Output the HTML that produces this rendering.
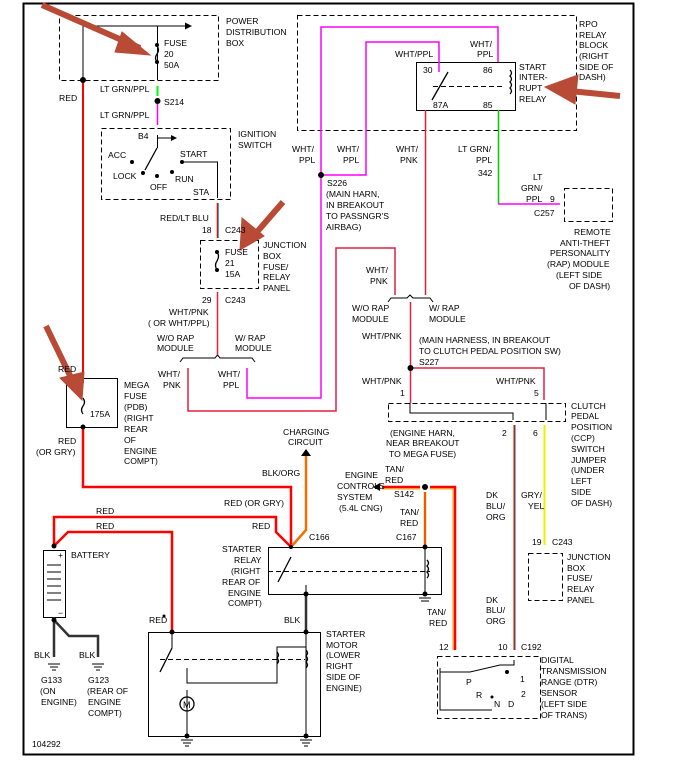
<!DOCTYPE html>
<html><head><style>
html,body{margin:0;padding:0;background:#fff;}
svg{display:block;font-family:"Liberation Sans",sans-serif;font-size:8.6px;}
text{fill:#000;}
</style></head><body>
<svg width="683" height="775" viewBox="0 0 683 775" xmlns="http://www.w3.org/2000/svg">
<rect x="23.5" y="3.5" width="610" height="751" fill="none" stroke="#000" stroke-width="2"/>
<g fill="none" stroke="#000" stroke-width="1" stroke-dasharray="5,3">
<rect x="59.5" y="15.5" width="159" height="65"/>
<rect x="101.5" y="128.5" width="129" height="71"/>
<rect x="200.5" y="240.5" width="58" height="48"/>
<rect x="297.5" y="15.5" width="279" height="115"/>
<rect x="564.5" y="188.5" width="48" height="33"/>
<rect x="388.5" y="403.5" width="177" height="18"/>
<rect x="528.5" y="553.5" width="34" height="47"/>
<rect x="437.5" y="656.5" width="103" height="62"/>
<line x1="268" y1="571.5" x2="430" y2="571.5"/>
<line x1="160" y1="659.5" x2="305" y2="659.5"/>
<line x1="433" y1="86.5" x2="505" y2="86.5"/>
</g>
<g fill="none" stroke="#000" stroke-width="1">
<polyline points="83,80 83,26 186,26"/>
<line x1="157.5" y1="26" x2="157.5" y2="80"/>
<polyline points="157.5,135 157.5,138 172,138"/>
<polyline points="182,162 217.5,162 217.5,198"/>
<rect x="416.5" y="62.5" width="99" height="48"/>
<rect x="66.5" y="378.5" width="51" height="49"/>
<rect x="268.5" y="547.5" width="173" height="47"/>
<rect x="148.5" y="632.5" width="172" height="104"/>
<rect x="43.5" y="550.5" width="22" height="67"/>
<polyline points="180,362 183,358 215,358 217.5,355 220,358 252,358 255,362"/>
<polyline points="388,302 391,298 407,298 410,295 413,298 430,298 433,302"/>
<polyline points="410,403 410,413 513,413 513,420"/>
<polyline points="546,403 546,420"/>
<polyline points="440,668 440,710 492,710"/>
<polyline points="440,672 470,672 500,665 514,665 514,660"/>
<polyline points="306,602 306,585 306,660"/>
<polyline points="187,668 187,683 277,683 277,647 306,647"/>
<line x1="187" y1="690" x2="187" y2="736"/>
<line x1="306" y1="594" x2="306" y2="736"/>
<line x1="425" y1="547" x2="425" y2="594"/>
<line x1="172" y1="632" x2="172" y2="648"/>
<line x1="157.5" y1="138" x2="157.5" y2="148"/>
</g>
<g fill="#000">
<polygon points="192,26 185,22.5 185,29.5"/>
<polygon points="177,138 171,135 171,141"/>
</g>
<g fill="none" stroke-width="2">
<polyline stroke="#f00" points="83,80 83,383"/>
<polyline stroke="#f00" stroke-width="2.5" points="83,427 83,487 291,487 291,548"/>
<polyline stroke="#f00" stroke-width="2.5" points="54,546 54,517 276,517 276,532 291,547"/>
<polyline stroke="#f00" stroke-width="2.5" points="54,546 68,532 172,532 172,632"/>
<polyline stroke="#333" stroke-width="2.5" points="54,617 54,657"/>
<polyline stroke="#333" stroke-width="2.5" points="54,620 69,636 98,636 98,657"/>
<polyline stroke="#333" stroke-width="2.5" points="306,594 306,632"/>
</g>
<g fill="none" stroke-width="1.5">
<line x1="157.5" y1="86" x2="157.5" y2="96" stroke="#0f0" stroke-width="2"/>
<line x1="157.5" y1="104" x2="157.5" y2="125" stroke="#f0f"/>
<line x1="217.5" y1="203" x2="217.5" y2="238" stroke="#f00"/>
<line x1="218.5" y1="203" x2="218.5" y2="238" stroke="#0aa" stroke-width="0.8"/>
<line x1="217.5" y1="292" x2="217.5" y2="355" stroke="#e02040"/>
<polyline stroke="#e02040" points="188,368 188,411 336,411 336,248 395,248 395,295"/>
<polyline stroke="#f0f" points="247,368 247,398 321,398 321,27 498,27 498,62"/>
<polyline stroke="#f0f" points="321,175 366,175 366,42 439,42 439,72"/>
<line x1="425.5" y1="110" x2="425.5" y2="295" stroke="#e02040"/>
<polyline stroke="#0c0" points="498.5,110 498.5,204"/>
<polyline stroke="#f0f" points="498,204 560,204"/>
<line x1="410.5" y1="302" x2="410.5" y2="403" stroke="#e02040"/>
<polyline stroke="#e02040" points="410,368 544,368 544,400"/>
<line x1="514.5" y1="425" x2="514.5" y2="650" stroke="#f07000" stroke-width="2.5"/>
<line x1="514.5" y1="425" x2="514.5" y2="650" stroke="#3040d0" stroke-width="1"/>
<line x1="544.5" y1="425" x2="544.5" y2="545" stroke="#ee0" stroke-width="2"/>
<polyline stroke="#f07000" stroke-width="2.5" points="306,455 306,530 291,547"/>
<polyline stroke="#f00" stroke-width="2.5" points="382,487 420,487"/>
<polyline stroke="#ea0" stroke-width="1" points="382,489 420,489"/>
<polyline stroke="#f00" stroke-width="2.5" points="430,487 455,487 455,650"/>
<polyline stroke="#ea0" stroke-width="1" points="430,489 453,489 453,650"/>
<line x1="425" y1="492" x2="425" y2="547" stroke="#ea0" stroke-width="2.5"/>
<line x1="425" y1="492" x2="425" y2="547" stroke="#f00" stroke-width="1"/>
</g>
<g fill="#000">
<circle cx="83" cy="80" r="3"/><circle cx="157.5" cy="101" r="3"/><circle cx="321" cy="175" r="3"/>
<circle cx="410.5" cy="368" r="3"/><circle cx="425" cy="487" r="3"/>
<circle cx="54" cy="546" r="2.5"/><circle cx="54" cy="620" r="2.5"/><circle cx="291" cy="547" r="2"/>
<circle cx="172" cy="632" r="2.5"/><circle cx="306" cy="632" r="2.5"/><circle cx="306" cy="594" r="2.5"/>
<circle cx="425" cy="594" r="2.5"/><circle cx="425" cy="547" r="2.5"/>
<circle cx="187" cy="736" r="2.5"/><circle cx="306" cy="736" r="2.5"/>
<circle cx="83" cy="427" r="2.5"/><circle cx="157" cy="45" r="2"/><circle cx="157" cy="62" r="2"/>
<circle cx="217" cy="252" r="2"/><circle cx="217" cy="270" r="2"/>
<circle cx="132" cy="162" r="2"/><circle cx="143" cy="173" r="2"/><circle cx="157" cy="176" r="2"/><circle cx="172" cy="172" r="2"/><circle cx="182" cy="162" r="2"/>
<circle cx="164" cy="616" r="1.5"/><circle cx="492" cy="697" r="1.5"/><circle cx="507" cy="672" r="2"/>
<polygon points="306,449 301,456 311,456"/>
<polygon points="373,487 380,483 380,491"/>
</g>
<g stroke="#000" fill="none" stroke-width="1.3">
<line x1="157" y1="148" x2="145" y2="170"/>
<line x1="448" y1="72" x2="432" y2="100"/>
<line x1="291" y1="557" x2="278" y2="582"/>
<line x1="172" y1="648" x2="160" y2="672"/>
<path d="M427,560 q3,3 0,6 q3,3 0,6 q3,3 0,6"/>
<path d="M306,650 q3,3 0,6 q3,3 0,6 q3,3 0,6"/>
<path d="M277,652 q3,3 0,6 q3,3 0,6"/>
<path d="M510,70 q3,3 0,6 q3,3 0,6 q3,3 0,6 q3,3 0,6"/>
<path d="M157,46 q3,4 0,8 q-3,4 0,8"/>
<path d="M217,252 q3,4 0,9 q-3,4 0,9"/>
<path d="M83,398 q3,4 0,8 q-3,4 0,8"/>
<circle cx="187" cy="704" r="7"/>
</g>
<text x="183" y="708" font-size="9">M</text>
<g stroke="#000" stroke-width="1"><line x1="47" y1="565" x2="61" y2="565"/><line x1="47" y1="572" x2="61" y2="572"/><line x1="47" y1="579" x2="61" y2="579"/><line x1="47" y1="586" x2="61" y2="586"/><line x1="47" y1="593" x2="61" y2="593"/><line x1="47" y1="600" x2="61" y2="600"/>
<line x1="48" y1="664" x2="60" y2="664"/><line x1="50" y1="667" x2="58" y2="667"/><line x1="52" y1="670" x2="56" y2="670"/>
<line x1="92" y1="664" x2="104" y2="664"/><line x1="94" y1="667" x2="102" y2="667"/><line x1="96" y1="670" x2="100" y2="670"/>
<line x1="181" y1="740" x2="193" y2="740"/><line x1="183" y1="743" x2="191" y2="743"/><line x1="185" y1="746" x2="189" y2="746"/>
<line x1="300" y1="740" x2="312" y2="740"/><line x1="302" y1="743" x2="310" y2="743"/><line x1="304" y1="746" x2="308" y2="746"/>
<line x1="419" y1="598" x2="431" y2="598"/><line x1="421" y1="601" x2="429" y2="601"/>
</g>
<g stroke="#b94a35" fill="#b94a35" stroke-width="6">
<line x1="42" y1="5" x2="140" y2="48"/><polygon stroke-width="1" points="150,55 122,32 115,52"/>
<line x1="620" y1="96" x2="560" y2="90"/><polygon stroke-width="1" points="545,87 578,75 575,104"/>
<line x1="283" y1="202" x2="250" y2="240"/><polygon stroke-width="1" points="240,250 242,218 264,236"/>
<line x1="46" y1="326" x2="76" y2="388"/><polygon stroke-width="1" points="82,400 60,378 84,372"/>
</g>
<g>
<text x="226" y="24">POWER</text><text x="226" y="35">DISTRIBUTION</text><text x="226" y="46">BOX</text>
<text x="164" y="46">FUSE</text><text x="164" y="57">20</text><text x="164" y="68">50A</text>
<text x="59" y="101">RED</text>
<text x="100" y="92">LT GRN/PPL</text><text x="164" y="105">S214</text><text x="100" y="118">LT GRN/PPL</text>
<text x="138" y="139">B4</text><text x="238" y="137">IGNITION</text><text x="238" y="148">SWITCH</text>
<text x="108" y="158">ACC</text><text x="180" y="157">START</text><text x="113" y="179">LOCK</text><text x="175" y="182">RUN</text><text x="150" y="190">OFF</text><text x="193" y="195">STA</text>
<text x="160" y="221">RED/LT BLU</text><text x="202" y="233">18</text><text x="225" y="233">C243</text>
<text x="225" y="255">FUSE</text><text x="225" y="266">21</text><text x="225" y="277">15A</text>
<text x="263" y="248">JUNCTION</text><text x="263" y="259">BOX</text><text x="263" y="270">FUSE/</text><text x="263" y="280">RELAY</text><text x="263" y="291">PANEL</text>
<text x="202" y="303">29</text><text x="225" y="303">C243</text>
<text x="169" y="315">WHT/PNK</text><text x="148" y="326">( OR WHT/PPL)</text>
<text x="157" y="341">W/O RAP</text><text x="157" y="351">MODULE</text><text x="235" y="341">W/ RAP</text><text x="235" y="351">MODULE</text>
<text x="158" y="377">WHT/</text><text x="163" y="388">PNK</text><text x="218" y="377">WHT/</text><text x="223" y="388">PPL</text>
<text x="58" y="372">RED</text>
<text x="124" y="388">MEGA</text><text x="124" y="399">FUSE</text><text x="124" y="410">(PDB)</text><text x="124" y="421">(RIGHT</text><text x="124" y="432">REAR</text><text x="124" y="443">OF</text><text x="124" y="454">ENGINE</text><text x="124" y="464">COMPT)</text>
<text x="90" y="417">175A</text>
<text x="58" y="444">RED</text><text x="36" y="455">(OR GRY)</text>
<text x="292" y="152">WHT/</text><text x="299" y="163">PPL</text><text x="337" y="152">WHT/</text><text x="343" y="163">PPL</text>
<text x="396" y="152">WHT/</text><text x="400" y="163">PNK</text><text x="458" y="152">LT GRN/</text><text x="476" y="163">PPL</text><text x="478" y="176">342</text>
<text x="327" y="186">S226</text><text x="326" y="197">(MAIN HARN,</text><text x="326" y="208">IN BREAKOUT</text><text x="326" y="219">TO PASSNGR'S</text><text x="326" y="230">AIRBAG)</text>
<text x="395" y="57">WHT/PPL</text><text x="470" y="47">WHT/</text><text x="477" y="57">PPL</text>
<text x="423" y="73">30</text><text x="483" y="73">86</text><text x="433" y="108">87A</text><text x="483" y="108">85</text>
<text x="519" y="70">START</text><text x="519" y="80">INTER-</text><text x="519" y="91">RUPT</text><text x="519" y="102">RELAY</text>
<text x="579" y="27">RPO</text><text x="579" y="38">RELAY</text><text x="579" y="48">BLOCK</text><text x="579" y="59">(RIGHT</text><text x="579" y="70">SIDE OF</text><text x="579" y="80">DASH)</text>
<text x="533" y="180">LT</text><text x="521" y="191">GRN/</text><text x="526" y="202">PPL</text><text x="550" y="202">9</text><text x="534" y="216">C257</text>
<text x="574" y="235">REMOTE</text><text x="560" y="246">ANTI-THEFT</text><text x="550" y="256">PERSONALITY</text><text x="547" y="267">(RAP) MODULE</text><text x="556" y="278">(LEFT SIDE</text><text x="569" y="289">OF DASH)</text>
<text x="366" y="273">WHT/</text><text x="370" y="284">PNK</text>
<text x="352" y="311">W/O RAP</text><text x="352" y="322">MODULE</text><text x="429" y="311">W/ RAP</text><text x="429" y="322">MODULE</text>
<text x="362" y="339">WHT/PNK</text><text x="419" y="343">(MAIN HARNESS, IN BREAKOUT</text><text x="419" y="354">TO CLUTCH PEDAL POSITION SW)</text><text x="419" y="365">S227</text>
<text x="362" y="384">WHT/PNK</text><text x="496" y="384">WHT/PNK</text><text x="400" y="396">1</text><text x="534" y="396">5</text>
<text x="571" y="409">CLUTCH</text><text x="571" y="419">PEDAL</text><text x="571" y="430">POSITION</text><text x="571" y="441">(CCP)</text><text x="571" y="452">SWITCH</text><text x="571" y="463">JUMPER</text><text x="571" y="473">(UNDER</text><text x="571" y="484">LEFT</text><text x="571" y="495">SIDE</text><text x="571" y="506">OF DASH)</text>
<text x="502" y="436">2</text><text x="533" y="436">6</text>
<text x="390" y="436">(ENGINE HARN,</text><text x="386" y="446">NEAR BREAKOUT</text><text x="389" y="457">TO MEGA FUSE)</text>
<text x="385" y="472">TAN/</text><text x="385" y="483">RED</text><text x="394" y="497">S142</text>
<text x="400" y="515">TAN/</text><text x="400" y="526">RED</text><text x="396" y="540">C167</text>
<text x="345" y="478">ENGINE</text><text x="337" y="489">CONTROLS</text><text x="337" y="500">SYSTEM</text><text x="339" y="511">(5.4L CNG)</text>
<text x="486" y="498">DK</text><text x="486" y="509">BLU/</text><text x="486" y="520">ORG</text><text x="521" y="498">GRY/</text><text x="528" y="509">YEL</text>
<text x="532" y="545">19</text><text x="552" y="545">C243</text>
<text x="567" y="560">JUNCTION</text><text x="567" y="571">BOX</text><text x="567" y="581">FUSE/</text><text x="567" y="592">RELAY</text><text x="567" y="603">PANEL</text>
<text x="427" y="615">TAN/</text><text x="429" y="626">RED</text><text x="486" y="603">DK</text><text x="486" y="613">BLU/</text><text x="486" y="624">ORG</text>
<text x="439" y="650">12</text><text x="498" y="650">10</text><text x="521" y="650">C192</text>
<text x="541" y="663">DIGITAL</text><text x="541" y="674">TRANSMISSION</text><text x="541" y="685">RANGE (DTR)</text><text x="541" y="696">SENSOR</text><text x="541" y="707">(LEFT SIDE</text><text x="541" y="718">OF TRANS)</text>
<text x="466" y="685">P</text><text x="476" y="698">R</text><text x="494" y="707">N</text><text x="508" y="707">D</text><text x="520" y="682">1</text><text x="521" y="697">2</text>
<text x="283" y="435">CHARGING</text><text x="288" y="445">CIRCUIT</text><text x="262" y="476">BLK/ORG</text>
<text x="224" y="506">RED (OR GRY)</text><text x="96" y="514">RED</text><text x="96" y="529">RED</text><text x="252" y="529">RED</text>
<text x="309" y="540">C166</text>
<text x="222" y="552">STARTER</text><text x="234" y="563">RELAY</text><text x="231" y="574">(RIGHT</text><text x="222" y="585">REAR OF</text><text x="228" y="596">ENGINE</text><text x="228" y="606">COMPT)</text>
<text x="71" y="558">BATTERY</text><text x="58" y="558">+</text><text x="58" y="616">−</text>
<text x="149" y="623">RED</text><text x="284" y="623">BLK</text>
<text x="326" y="637">STARTER</text><text x="326" y="648">MOTOR</text><text x="326" y="658">(LOWER</text><text x="326" y="669">RIGHT</text><text x="326" y="680">SIDE OF</text><text x="326" y="691">ENGINE)</text>
<text x="34" y="658">BLK</text><text x="79" y="658">BLK</text>
<text x="41" y="683">G133</text><text x="40" y="694">(ON</text><text x="41" y="705">ENGINE)</text>
<text x="88" y="683">G123</text><text x="87" y="694">(REAR OF</text><text x="88" y="705">ENGINE</text><text x="88" y="716">COMPT)</text>
<text x="32" y="747">104292</text>
</g>
</svg>
</body></html>
